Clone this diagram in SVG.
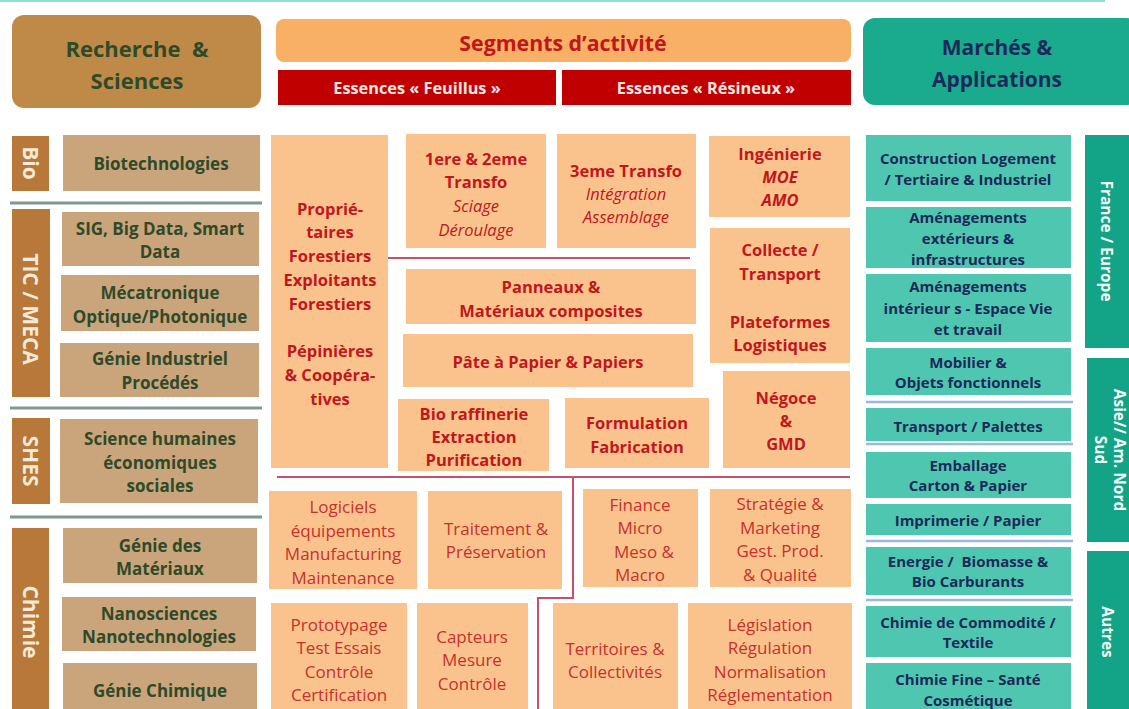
<svg xmlns="http://www.w3.org/2000/svg" width="1129" height="709" viewBox="0 0 1129 709">
<style>
text{font-family:"Open Sans",Lato,"Liberation Sans",sans-serif;text-anchor:middle;dominant-baseline:central}
.hdrL{fill:#bf8a47}
.bar{fill:#b8783a}
.tan{fill:#caa57b}
.tl{fill:#2f4a2a;font-weight:bold;font-size:17px}
.vl{fill:#f6ead8;font-weight:bold;font-size:21px}
.org{fill:#fac38e}
.mr{fill:#c0171c;font-weight:bold;font-size:16.5px}
.mi{fill:#c0171c;font-style:italic;font-size:16.5px}
.mn{fill:#c8302c;font-size:17px}
.tea{fill:#4fc7b0}
.tbar{fill:#13a387}
.rt{fill:#1c2a5a;font-weight:bold;font-size:15px}
.vr{fill:#f2fbf8;font-weight:bold;font-size:15.5px}
.sepL{stroke:#7e9a90;stroke-width:3}
.sepR{stroke:#9ab9dd;stroke-width:2.5}
.red{stroke:#c8506a;stroke-width:2;fill:none}
</style>
<line x1="0" y1="1" x2="1105" y2="1" stroke="#8fe0cf" stroke-width="2"/>

<g id="hdr-recherche">
<rect class="hdrL" x="12" y="15" width="249" height="93" rx="12"/>
<text x="137" y="48" xml:space="preserve" style="fill:#2f4a2a;font-weight:bold;font-size:22px">Recherche  &amp;</text>
<text x="137" y="80" style="fill:#2f4a2a;font-weight:bold;font-size:22px">Sciences</text>
</g>
<g id="hdr-segments">
<rect x="276" y="19" width="575" height="43" rx="8" fill="#f8b066"/>
<text x="563" y="42" style="fill:#c0171c;font-weight:bold;font-size:21.3px">Segments d’activité</text>
</g>
<g id="hdr-feuillus">
<rect x="278" y="70" width="278" height="35" fill="#c00000"/>
<text x="417" y="88" style="fill:#f6e6e0;font-weight:bold;font-size:16.3px">Essences « Feuillus »</text>
</g>
<g id="hdr-resineux">
<rect x="562" y="70" width="289" height="35" fill="#c00000"/>
<text x="706" y="88" style="fill:#f6e6e0;font-weight:bold;font-size:16.3px">Essences « Résineux »</text>
</g>
<g id="hdr-marches">
<rect x="863" y="18" width="275" height="87" rx="12" fill="#1aaa8e"/>
<text x="997" y="47" style="fill:#1c2a5a;font-weight:bold;font-size:21px">Marchés &amp;</text>
<text x="997" y="79" style="fill:#1c2a5a;font-weight:bold;font-size:21px">Applications</text>
</g>

<g id="separators">
<line class="sepL" x1="10" y1="203" x2="262" y2="203"/>
<line class="sepL" x1="10" y1="408" x2="262" y2="408"/>
<line class="sepL" x1="10" y1="517" x2="262" y2="517"/>
<line class="sepR" x1="866" y1="402" x2="1073" y2="402"/>
<line class="sepR" x1="866" y1="444" x2="1073" y2="444"/>
<line class="sepR" x1="866" y1="541" x2="1073" y2="541"/>
<line class="sepR" x1="866" y1="600" x2="1073" y2="600"/>
</g>

<g id="connectors">
<line class="red" x1="388" y1="258" x2="690" y2="258"/>
<line class="red" x1="277" y1="477" x2="850" y2="477"/>
<polyline class="red" points="573,477 573,598 538,598 538,709"/>
</g>

<g id="bar-bio"><rect class="bar" x="12" y="136" width="37" height="55"/>
<text class="vl" transform="translate(30.5,163) rotate(90)">Bio</text></g>
<g id="bar-tic"><rect class="bar" x="12" y="209" width="38" height="188"/>
<text class="vl" transform="translate(31,309) rotate(90)">TIC / MECA</text></g>
<g id="bar-shes"><rect class="bar" x="12" y="418" width="38" height="86"/>
<text class="vl" transform="translate(31,461) rotate(90)">SHES</text></g>
<g id="bar-chimie"><rect class="bar" x="12" y="528" width="37" height="181"/>
<text class="vl" transform="translate(30.5,622) rotate(90)">Chimie</text></g>

<g id="n-biotech"><rect class="tan" x="63" y="135" width="197" height="56"/>
<text class="tl" x="161" y="163">Biotechnologies</text></g>
<g id="n-sig"><rect class="tan" x="62" y="212" width="197" height="54"/>
<text class="tl" x="160" y="228">SIG, Big Data, Smart</text><text class="tl" x="160" y="251">Data</text></g>
<g id="n-meca"><rect class="tan" x="61" y="275" width="198" height="56"/>
<text class="tl" x="160" y="292">Mécatronique</text><text class="tl" x="160" y="316">Optique/Photonique</text></g>
<g id="n-genie-ind"><rect class="tan" x="60" y="343" width="199" height="54"/>
<text class="tl" x="160" y="358">Génie Industriel</text><text class="tl" x="160" y="382">Procédés</text></g>
<g id="n-shes"><rect class="tan" x="60" y="419" width="198" height="84"/>
<text class="tl" x="160" y="438">Science humaines</text><text class="tl" x="160" y="462">économiques</text><text class="tl" x="160" y="485">sociales</text></g>
<g id="n-materiaux"><rect class="tan" x="63" y="528" width="194" height="55"/>
<text class="tl" x="160" y="545">Génie des</text><text class="tl" x="160" y="568">Matériaux</text></g>
<g id="n-nano"><rect class="tan" x="62" y="597" width="194" height="54"/>
<text class="tl" x="159" y="613">Nanosciences</text><text class="tl" x="159" y="636">Nanotechnologies</text></g>
<g id="n-genie-chim"><rect class="tan" x="63" y="663" width="194" height="50"/>
<text class="tl" x="160" y="690">Génie Chimique</text></g>

<g id="n-proprietaires"><rect class="org" x="271" y="135" width="117" height="333"/>
<text class="mr" x="330" y="208">Proprié-</text><text class="mr" x="330" y="231">taires</text>
<text class="mr" x="330" y="255">Forestiers</text><text class="mr" x="330" y="279">Exploitants</text>
<text class="mr" x="330" y="303">Forestiers</text><text class="mr" x="330" y="350">Pépinières</text>
<text class="mr" x="330" y="374">&amp; Coopéra-</text><text class="mr" x="330" y="398">tives</text></g>
<g id="n-transfo12"><rect class="org" x="406" y="134" width="140" height="114"/>
<text class="mr" x="476" y="158">1ere &amp; 2eme</text><text class="mr" x="476" y="181">Transfo</text>
<text class="mi" x="476" y="205">Sciage</text><text class="mi" x="476" y="229">Déroulage</text></g>
<g id="n-transfo3"><rect class="org" x="557" y="134" width="139" height="114"/>
<text class="mr" x="626" y="170">3eme Transfo</text><text class="mi" x="626" y="193">Intégration</text>
<text class="mi" x="626" y="216">Assemblage</text></g>
<g id="n-ingenierie"><rect class="org" x="709" y="136" width="141" height="81"/>
<text class="mr" x="780" y="153">Ingénierie</text>
<text class="mr" x="780" y="176" style="font-style:italic">MOE</text>
<text class="mr" x="780" y="199" style="font-style:italic">AMO</text></g>
<g id="n-panneaux"><rect class="org" x="406" y="269" width="290" height="55"/>
<text class="mr" x="551" y="286">Panneaux &amp;</text><text class="mr" x="551" y="310">Matériaux composites</text></g>
<g id="n-collecte"><rect class="org" x="710" y="228" width="140" height="135"/>
<text class="mr" x="780" y="249">Collecte /</text><text class="mr" x="780" y="273">Transport</text>
<text class="mr" x="780" y="321">Plateformes</text><text class="mr" x="780" y="344">Logistiques</text></g>
<g id="n-pate"><rect class="org" x="403" y="334" width="290" height="53"/>
<text class="mr" x="548" y="361">Pâte à Papier &amp; Papiers</text></g>
<g id="n-bioraff"><rect class="org" x="398" y="399" width="151" height="72"/>
<text class="mr" x="474" y="413">Bio raffinerie</text><text class="mr" x="474" y="436">Extraction</text>
<text class="mr" x="474" y="459">Purification</text></g>
<g id="n-formulation"><rect class="org" x="565" y="398" width="144" height="70"/>
<text class="mr" x="637" y="422">Formulation</text><text class="mr" x="637" y="446">Fabrication</text></g>
<g id="n-negoce"><rect class="org" x="723" y="371" width="127" height="97"/>
<text class="mr" x="786" y="397">Négoce</text><text class="mr" x="786" y="420">&amp;</text>
<text class="mr" x="786" y="443">GMD</text></g>

<g id="n-logiciels"><rect class="org" x="269" y="491" width="148" height="98"/>
<text class="mn" x="343" y="506">Logiciels</text><text class="mn" x="343" y="530">équipements</text>
<text class="mn" x="343" y="553">Manufacturing</text><text class="mn" x="343" y="577">Maintenance</text></g>
<g id="n-traitement"><rect class="org" x="428" y="491" width="134" height="98"/>
<text class="mn" x="496" y="528">Traitement &amp;</text><text class="mn" x="496" y="551">Préservation</text></g>
<g id="n-finance"><rect class="org" x="583" y="489" width="115" height="98"/>
<text class="mn" x="640" y="504">Finance</text><text class="mn" x="640" y="527">Micro</text>
<text class="mn" x="644" y="551">Meso &amp;</text><text class="mn" x="640" y="574">Macro</text></g>
<g id="n-strategie"><rect class="org" x="710" y="489" width="141" height="98"/>
<text class="mn" x="780" y="503">Stratégie &amp;</text><text class="mn" x="780" y="527">Marketing</text>
<text class="mn" x="780" y="550">Gest. Prod.</text><text class="mn" x="780" y="574">&amp; Qualité</text></g>
<g id="n-prototypage"><rect class="org" x="271" y="603" width="136" height="110"/>
<text class="mn" x="339" y="624">Prototypage</text><text class="mn" x="339" y="647">Test Essais</text>
<text class="mn" x="339" y="671">Contrôle</text><text class="mn" x="339" y="694">Certification</text></g>
<g id="n-capteurs"><rect class="org" x="417" y="603" width="111" height="110"/>
<text class="mn" x="472" y="636">Capteurs</text><text class="mn" x="472" y="659">Mesure</text>
<text class="mn" x="472" y="683">Contrôle</text></g>
<g id="n-territoires"><rect class="org" x="553" y="603" width="125" height="110"/>
<text class="mn" x="615" y="648">Territoires &amp;</text><text class="mn" x="615" y="671">Collectivités</text></g>
<g id="n-legislation"><rect class="org" x="688" y="603" width="164" height="110"/>
<text class="mn" x="770" y="624">Législation</text><text class="mn" x="770" y="647">Régulation</text>
<text class="mn" x="770" y="671">Normalisation</text><text class="mn" x="770" y="694">Réglementation</text></g>

<g id="n-construction"><rect class="tea" x="866" y="135" width="205" height="66"/>
<text class="rt" x="968" y="158">Construction Logement</text><text class="rt" x="968" y="179">/ Tertiaire &amp; Industriel</text></g>
<g id="n-amenag-ext"><rect class="tea" x="866" y="207" width="205" height="61"/>
<text class="rt" x="968" y="217">Aménagements</text><text class="rt" x="968" y="238">extérieurs &amp;</text>
<text class="rt" x="968" y="259">infrastructures</text></g>
<g id="n-amenag-int"><rect class="tea" x="866" y="274" width="205" height="68"/>
<text class="rt" x="968" y="286">Aménagements</text><text class="rt" x="968" y="308">intérieur s - Espace Vie</text>
<text class="rt" x="968" y="329">et travail</text></g>
<g id="n-mobilier"><rect class="tea" x="866" y="348" width="205" height="47"/>
<text class="rt" x="968" y="362">Mobilier &amp;</text><text class="rt" x="968" y="382">Objets fonctionnels</text></g>
<g id="n-transport"><rect class="tea" x="866" y="408" width="205" height="33"/>
<text class="rt" x="968" y="426">Transport / Palettes</text></g>
<g id="n-emballage"><rect class="tea" x="866" y="452" width="205" height="46"/>
<text class="rt" x="968" y="465">Emballage</text><text class="rt" x="968" y="485">Carton &amp; Papier</text></g>
<g id="n-imprimerie"><rect class="tea" x="866" y="504" width="205" height="31"/>
<text class="rt" x="968" y="520">Imprimerie / Papier</text></g>
<g id="n-energie"><rect class="tea" x="866" y="547" width="205" height="48"/>
<text class="rt" x="968" y="561" xml:space="preserve">Energie /  Biomasse &amp;</text><text class="rt" x="968" y="581">Bio Carburants</text></g>
<g id="n-chimie-comm"><rect class="tea" x="866" y="606" width="205" height="51"/>
<text class="rt" x="968" y="622">Chimie de Commodité /</text><text class="rt" x="968" y="642">Textile</text></g>
<g id="n-chimie-fine"><rect class="tea" x="866" y="663" width="205" height="50"/>
<text class="rt" x="968" y="679">Chimie Fine – Santé</text><text class="rt" x="968" y="700">Cosmétique</text></g>

<g id="bar-france"><rect class="tbar" x="1085" y="135" width="50" height="213"/>
<text class="vr" transform="translate(1107,241) rotate(90)">France / Europe</text></g>
<g id="bar-asie"><rect class="tbar" x="1087" y="358" width="48" height="184"/>
<text class="vr" transform="translate(1120,450) rotate(90)">Asie// Am. Nord</text>
<text class="vr" transform="translate(1101,450) rotate(90)">Sud</text></g>
<g id="bar-autres"><rect class="tbar" x="1087" y="551" width="48" height="162"/>
<text class="vr" transform="translate(1108,632) rotate(90)">Autres</text></g>
</svg>
